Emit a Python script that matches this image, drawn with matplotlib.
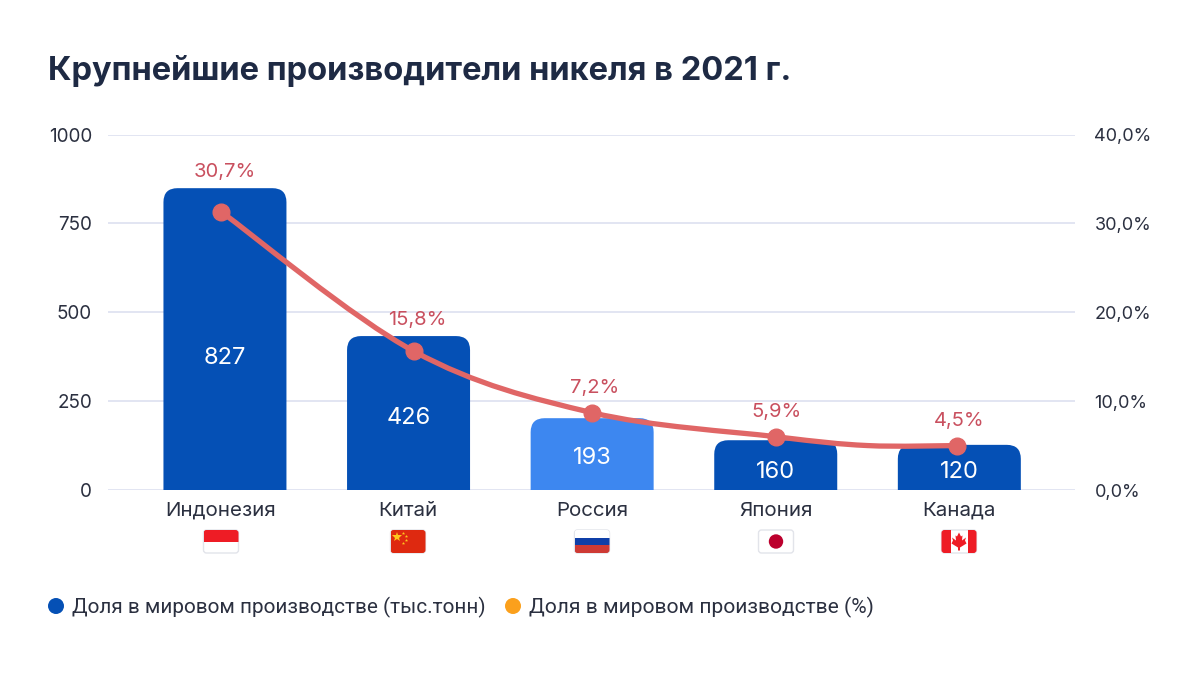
import matplotlib
matplotlib.use("Agg")
import matplotlib.pyplot as plt
import numpy as np
from matplotlib.patches import FancyBboxPatch, PathPatch, Rectangle, Circle, Polygon
from matplotlib.path import Path

# values
countries = ["Индонезия", "Китай", "Россия", "Япония", "Канада"]
bar_heights = [849, 433, 202, 140, 127]
bar_labels = ["827", "426", "193", "160", "120"]
bar_colors = ["#0550B5", "#0550B5", "#3D87F0", "#0550B5", "#0550B5"]

share_x = [-0.02, 1.03, 2.0, 3.0, 3.99]
share_y = [31.3, 15.6, 8.7, 6.0, 5.0]
share_labels = ["30,7%", "15,8%", "7,2%", "5,9%", "4,5%"]

# the drawn line goes flat before the last point
curve_x = [-0.02, 1.03, 2.0, 3.0, 3.5, 3.99]
curve_y = [31.3, 15.6, 8.7, 6.0, 5.0, 5.0]

left_ticks = [0, 250, 500, 750, 1000]
right_ticks = ["0,0%", "10,0%", "20,0%", "30,0%", "40,0%"]
flag_centers = [221, 408, 592, 776, 959]

DARK = "#2B3040"
RED = "#C9505F"
LINE = "#E06666"

plt.rcParams["font.family"] = ["Inter", "DejaVu Sans"]

W, H = 1200, 676
fig = plt.figure(figsize=(W / 100, H / 100), dpi=100, facecolor="white")

# main axes placed by pixels
ax = fig.add_axes([108 / W, 1 - 490 / H, (1075 - 108) / W, (490 - 134.5) / H])
ax.set_xlim(-0.637, 4.63)
ax.set_ylim(0, 1000)
ax.set_facecolor("none")
for s in ax.spines.values():
    s.set_visible(False)
ax.set_xticks([])
ax.set_yticks(left_ticks)
ax.tick_params(axis="y", length=0, pad=11.5, labelsize=13.6, labelcolor=DARK)
ax.grid(axis="y", color="#DDE0F0", linewidth=1.2)
ax.set_axisbelow(True)

ax2 = ax.twinx()
ax2.set_ylim(0, 40)
ax2.set_yticks([0, 10, 20, 30, 40])
ax2.set_yticklabels(right_ticks)
ax2.tick_params(axis="y", length=0, pad=14, labelsize=13, labelcolor=DARK)
for s in ax2.spines.values():
    s.set_visible(False)


def rounded_bar(i, height, color):
    half = 61.5 / 183.6
    rx = 14 / 183.6
    ry = 14 / 0.3555
    verts = [(i - half, 0), (i - half, height - ry), (i - half, height), (i - half + rx, height),
             (i + half - rx, height), (i + half, height), (i + half, height - ry), (i + half, 0), (i - half, 0)]
    codes = [Path.MOVETO, Path.LINETO, Path.CURVE3, Path.CURVE3,
             Path.LINETO, Path.CURVE3, Path.CURVE3, Path.LINETO, Path.CLOSEPOLY]
    ax.add_patch(PathPatch(Path(verts, codes), facecolor=color, edgecolor="none", zorder=2))


for i in range(len(countries)):
    rounded_bar(i, bar_heights[i], bar_colors[i])

# value inside the bars
bar_label_y = [372, 203, 90, 52, 52]
for i in range(len(countries)):
    ax.text(i, bar_label_y[i], bar_labels[i], color="white", fontsize=17,
            ha="center", va="center", zorder=3)

# smooth share line, bezier through the read points
xs = np.array(curve_x)
ys = np.array(curve_y)
verts = [(xs[0], ys[0])]
codes = [Path.MOVETO]
for k in range(len(xs) - 1):
    p0 = np.array([xs[max(k - 1, 0)], ys[max(k - 1, 0)]])
    p1 = np.array([xs[k], ys[k]])
    p2 = np.array([xs[k + 1], ys[k + 1]])
    p3 = np.array([xs[min(k + 2, len(xs) - 1)], ys[min(k + 2, len(xs) - 1)]])
    verts += [tuple(p1 + (p2 - p0) / 6), tuple(p2 - (p3 - p1) / 6), tuple(p2)]
    codes += [Path.CURVE4, Path.CURVE4, Path.CURVE4]
ax2.add_patch(PathPatch(Path(verts, codes), facecolor="none", edgecolor=LINE, linewidth=3.8, zorder=4, capstyle="round"))
ax2.plot(share_x, share_y, linestyle="none", marker="o", markersize=12, color=LINE, zorder=5)

# offsets of the percent labels from their markers, in pixels
label_dx = [4, 3, 2, 1, 2]
label_dy = [40, 31, 25, 25, 25]
for i in range(len(share_labels)):
    ax2.annotate(share_labels[i], (share_x[i], share_y[i]), xytext=(label_dx[i] * 0.72, label_dy[i] * 0.72),
                 textcoords="offset points", color=RED, fontsize=14.5, ha="center", va="center", zorder=6)

# overlay in pixel coords for title, flags and legend
ov = fig.add_axes([0, 0, 1, 1], zorder=10)
ov.set_xlim(0, W)
ov.set_ylim(H, 0)
ov.axis("off")

ov.text(48, 71, "Крупнейшие производители никеля в 2021 г.", fontsize=23.5, fontweight="bold",
        color="#1E2A44", va="center", ha="left")

for i in range(len(countries)):
    ov.text(flag_centers[i], 511, countries[i], fontsize=14.8, color=DARK, ha="center", va="center")


def flag_base(cx):
    box = FancyBboxPatch((cx - 17.5, 530), 35, 23, boxstyle="round,pad=0,rounding_size=3",
                         facecolor="white", edgecolor="#E2E4EA", linewidth=1)
    ov.add_patch(box)
    return box


def stripe(cx, y0, h, color, box):
    r = Rectangle((cx - 17.5, y0), 35, h, facecolor=color, edgecolor="none")
    ov.add_patch(r)
    r.set_clip_path(box)


box = flag_base(flag_centers[0])
stripe(flag_centers[0], 530, 11.5, "#EE1C25", box)

box = flag_base(flag_centers[1])
stripe(flag_centers[1], 530, 23, "#DE2910", box)
ov.plot(flag_centers[1] - 11, 537, marker="*", markersize=7, color="#FFC61E", markeredgewidth=0)
for dx, dy in [(-5, -4), (-2, -1), (-2, 3), (-5, 6)]:
    ov.plot(flag_centers[1] + dx, 537 + dy, marker="*", markersize=2.5, color="#FFC61E", markeredgewidth=0)

box = flag_base(flag_centers[2])
stripe(flag_centers[2], 530, 7.7, "#FFFFFF", box)
stripe(flag_centers[2], 537.7, 7.7, "#0F3FA8", box)
stripe(flag_centers[2], 545.4, 7.7, "#CE3A34", box)

box = flag_base(flag_centers[3])
ov.add_patch(Circle((flag_centers[3], 541.5), 7.2, facecolor="#BC002D", edgecolor="none"))

box = flag_base(flag_centers[4])
stripe(flag_centers[4] - 26, 530, 23, "#EE1C25", box)
stripe(flag_centers[4] + 26, 530, 23, "#EE1C25", box)
leaf_dx = [0, 2, 3.5, 3, 7, 6, 7.5, 1, 1, -1, -1, -7.5, -6, -7, -3, -3.5, -2]
leaf_dy = [-9, -5, -6, -1, -4, -1, 2, 6, 9, 9, 6, 2, -1, -4, -1, -6, -5]
ov.add_patch(Polygon([(flag_centers[4] + a, 541.5 + b) for a, b in zip(leaf_dx, leaf_dy)],
                     facecolor="#EE1C25", edgecolor="none"))

# legend
ov.add_patch(Circle((56, 606), 8, facecolor="#0550B5", edgecolor="none"))
ov.text(72, 607, "Доля в мировом производстве (тыс.тонн)", fontsize=14.95, color=DARK, va="center", ha="left",
        family=["Roboto", "DejaVu Sans"])
ov.add_patch(Circle((513, 606), 8, facecolor="#FBA01C", edgecolor="none"))
ov.text(529, 607, "Доля в мировом производстве (%)", fontsize=15.1, color=DARK, va="center", ha="left",
        family=["Roboto", "DejaVu Sans"])

fig.savefig("out.png", dpi=100)
